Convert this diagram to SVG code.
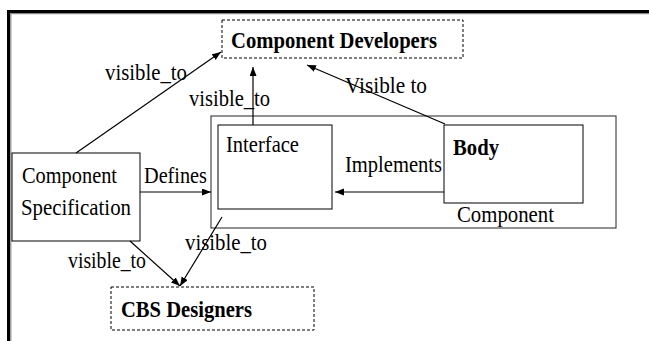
<svg xmlns="http://www.w3.org/2000/svg" width="649" height="341" viewBox="0 0 649 341">
  <style>
    .box { fill: #fff; stroke: #000; stroke-width: 1; }
    .outer { fill: #fff; stroke: #222; stroke-width: 1; }
    .dash { fill: #fff; stroke: #000; stroke-width: 1; stroke-dasharray: 3 2; }
    .t { font-family: "Liberation Serif", "Times New Roman", serif; font-size: 22.5px; fill: #000; }
    .b { font-weight: bold; }
    .edge { fill: none; stroke: #000; stroke-width: 1.2; }
  </style>
  <defs>
    <marker id="arrow" markerUnits="userSpaceOnUse" markerWidth="10" markerHeight="8" refX="9" refY="3.5" orient="auto">
      <path d="M0,0 L9,3.5 L0,7 z" fill="#000"/>
    </marker>
  </defs>

  <rect width="649" height="341" fill="#fff"/>

  <!-- page frame -->
  <path d="M8.5 341 V11.5 H649" fill="none" stroke="#000" stroke-width="3"/>
  <path d="M10.8 341 V13.6 H649" fill="none" stroke="#888" stroke-width="1.2"/>

  <g id="component-developers">
    <rect class="dash" x="222" y="20" width="241" height="38"/>
    <text class="t b" x="231" y="48" textLength="206" lengthAdjust="spacingAndGlyphs">Component Developers</text>
  </g>

  <g id="component">
    <rect class="outer" x="211" y="116" width="405" height="112"/>
    <text class="t" x="457" y="222" textLength="97" lengthAdjust="spacingAndGlyphs">Component</text>
  </g>

  <g id="interface">
    <rect class="box" x="218" y="125" width="114" height="84"/>
    <text class="t" x="226" y="152" textLength="73" lengthAdjust="spacingAndGlyphs">Interface</text>
  </g>

  <g id="body">
    <rect class="box" x="444" y="125" width="139" height="78"/>
    <text class="t b" x="453" y="155" textLength="46" lengthAdjust="spacingAndGlyphs">Body</text>
  </g>

  <g id="component-specification">
    <rect class="box" x="12" y="153" width="128" height="88"/>
    <text class="t" x="22" y="183" textLength="95" lengthAdjust="spacingAndGlyphs">Component</text>
    <text class="t" x="21" y="215" textLength="110" lengthAdjust="spacingAndGlyphs">Specification</text>
  </g>

  <g id="cbs-designers">
    <rect class="dash" x="111" y="287" width="203" height="43"/>
    <text class="t b" x="121" y="317" textLength="131" lengthAdjust="spacingAndGlyphs">CBS Designers</text>
  </g>

  <g id="connectors">
    <line class="edge" x1="76" y1="153" x2="221" y2="52" marker-end="url(#arrow)"/>
    <line class="edge" x1="253" y1="125" x2="253" y2="67" marker-end="url(#arrow)"/>
    <line class="edge" x1="445" y1="124" x2="307" y2="65" marker-end="url(#arrow)"/>
    <line class="edge" x1="444" y1="192" x2="335" y2="192" marker-end="url(#arrow)"/>
    <line class="edge" x1="140" y1="192" x2="211" y2="192" marker-end="url(#arrow)"/>
    <line class="edge" x1="130" y1="241" x2="180" y2="286" marker-end="url(#arrow)"/>
    <line class="edge" x1="222" y1="217" x2="180" y2="286" marker-end="url(#arrow)"/>

    <text class="t" x="105" y="80" textLength="82" lengthAdjust="spacingAndGlyphs">visible_to</text>
    <text class="t" x="189" y="106" textLength="81" lengthAdjust="spacingAndGlyphs">visible_to</text>
    <text class="t" x="345" y="93" textLength="82" lengthAdjust="spacingAndGlyphs">Visible to</text>
    <text class="t" x="345" y="172" textLength="97" lengthAdjust="spacingAndGlyphs">Implements</text>
    <text class="t" x="144" y="183" textLength="63" lengthAdjust="spacingAndGlyphs">Defines</text>
    <text class="t" x="68" y="268" textLength="78" lengthAdjust="spacingAndGlyphs">visible_to</text>
    <text class="t" x="185" y="250" textLength="82" lengthAdjust="spacingAndGlyphs">visible_to</text>
  </g>
</svg>
